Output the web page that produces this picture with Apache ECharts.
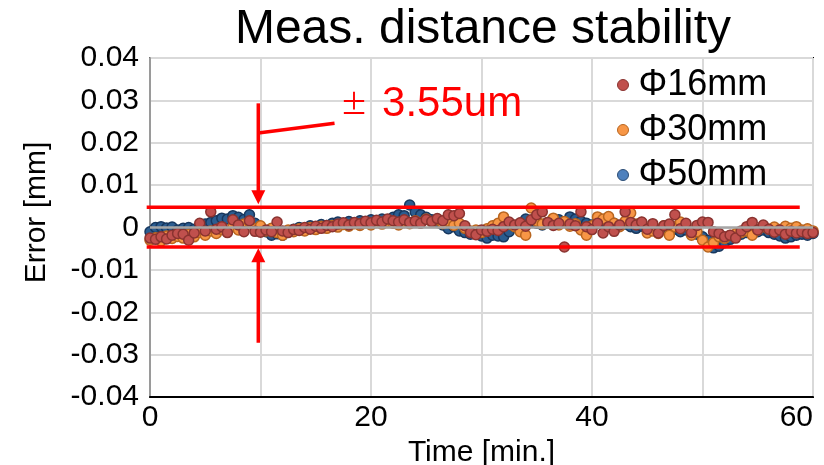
<!DOCTYPE html>
<html>
<head>
<meta charset="utf-8">
<script src="https://cdn.jsdelivr.net/npm/echarts@6/dist/echarts.min.js"></script>
<style>html,body{margin:0;padding:0;background:#fff}#c{width:824px;height:465px}</style>
</head>
<body>
<div id="c"></div>
<script>
const minutes = [0,0.5,1,1.5,2,2.5,3,3.5,4,4.5,5,5.5,6,6.5,7,7.5,8,8.5,9,9.5,10,10.5,11,11.5,12,12.5,13,13.5,14,14.5,15,15.5,16,16.5,17,17.5,18,18.5,19,19.5,20,20.5,21,21.5,22,22.5,23,23.5,24,24.5,25,25.5,26,26.5,27,27.5,28,28.5,29,29.5,30,30.5,31,31.5,32,32.5,33,33.5,34,34.5,35,35.5,36,36.5,37,37.5,38,38.5,39,39.5,40,40.5,41,41.5,42,42.5,43,43.5,44,44.5,45,45.5,46,46.5,47,47.5,48,48.5,49,49.5,50,50.5,51,51.5,52,52.5,53,53.5,54,54.5,55,55.5,56,56.5,57,57.5,58,58.5,59,59.5,60];

const phi16 = [-0.0025,-0.0028,-0.0022,-0.0027,-0.0018,-0.0014,-0.0016,-0.0030,-0.0013,0.0010,-0.0008,0.0037,-0.0004,0.0002,-0.0012,0.0018,0.0006,-0.0010,0.0016,-0.0009,
-0.0011,-0.0006,-0.0010,0.0013,-0.0008,-0.0012,-0.0005,-0.0007,0.0000,-0.0004,0.0003,-0.0002,0.0005,0.0002,0.0008,0.0011,0.0006,0.0012,0.0009,0.0015,
0.0011,0.0017,0.0013,0.0020,0.0016,0.0013,0.0018,0.0012,0.0015,0.0010,0.0019,0.0014,0.0021,0.0016,0.0030,0.0028,0.0033,0.0004,-0.0012,-0.0017,
-0.0006,-0.0009,-0.0004,-0.0007,0.0002,0.0013,0.0006,0.0011,0.0003,0.0018,0.0030,0.0037,0.0012,0.0005,0.0010,-0.0046,0.0008,0.0004,0.0037,0.0002,
-0.0005,0.0010,-0.0013,0.0002,-0.0009,0.0006,0.0037,0.0012,0.0006,0.0013,-0.0004,0.0009,-0.0013,0.0004,0.0008,0.0030,-0.0003,0.0010,-0.0012,0.0005,
0.0013,0.0012,-0.0010,-0.0014,-0.0022,-0.0018,-0.0025,-0.0008,0.0002,0.0012,-0.0006,0.0006,-0.0004,-0.0011,-0.0006,-0.0016,-0.0009,-0.0013,-0.0010,-0.0014,
-0.0012];

const phi30 = [-0.0030,-0.0024,-0.0032,-0.0020,-0.0026,-0.0021,-0.0025,-0.0016,-0.0022,-0.0012,-0.0018,-0.0008,-0.0014,-0.0005,-0.0010,0.0002,-0.0006,0.0008,0.0013,-0.0003,
0.0004,-0.0008,-0.0002,-0.0012,-0.0018,-0.0006,-0.0010,-0.0003,-0.0008,0.0000,-0.0005,0.0003,-0.0002,0.0005,0.0001,0.0007,0.0003,0.0009,0.0005,0.0011,
0.0006,0.0012,0.0008,0.0014,0.0010,0.0006,0.0012,0.0009,0.0016,0.0011,0.0020,0.0013,0.0018,0.0009,0.0015,0.0005,0.0010,-0.0002,-0.0008,-0.0006,
-0.0012,-0.0003,0.0004,0.0010,0.0025,0.0008,0.0002,-0.0010,-0.0018,0.0046,0.0015,0.0008,0.0012,0.0022,0.0006,0.0014,0.0003,0.0009,-0.0006,-0.0018,
0.0004,0.0025,0.0020,0.0026,0.0010,0.0002,0.0015,0.0034,0.0008,0.0012,-0.0013,-0.0008,-0.0014,0.0004,-0.0018,0.0002,0.0013,0.0005,-0.0018,-0.0010,
-0.0030,-0.0046,-0.0036,-0.0022,-0.0026,-0.0019,-0.0015,-0.0012,-0.0008,-0.0018,-0.0006,0.0002,-0.0004,0.0001,-0.0005,0.0003,-0.0002,0.0002,-0.0006,-0.0003,
-0.0008];

const phi50 = [-0.0010,0.0000,0.0002,-0.0001,0.0001,-0.0006,-0.0002,0.0000,-0.0004,0.0004,0.0008,0.0012,0.0016,0.0022,0.0020,0.0028,0.0024,0.0019,0.0030,0.0010,
-0.0002,-0.0010,-0.0018,-0.0015,-0.0018,-0.0008,-0.0004,0.0000,-0.0003,0.0004,0.0002,0.0007,0.0005,0.0010,0.0013,0.0008,0.0014,0.0010,0.0016,0.0012,
0.0018,0.0015,0.0020,0.0017,0.0024,0.0030,0.0028,0.0053,0.0036,0.0030,0.0024,0.0018,0.0012,0.0006,-0.0003,0.0002,-0.0008,-0.0012,-0.0016,-0.0014,
-0.0020,-0.0025,-0.0018,-0.0020,-0.0022,-0.0010,0.0002,0.0010,0.0020,0.0014,0.0010,0.0006,0.0012,0.0016,0.0018,0.0013,0.0025,0.0020,0.0015,0.0010,
0.0006,0.0012,0.0015,0.0018,0.0010,0.0004,0.0008,0.0002,-0.0002,0.0003,-0.0004,0.0001,-0.0006,-0.0002,-0.0008,-0.0004,-0.0010,-0.0006,-0.0012,-0.0016,
-0.0022,-0.0030,-0.0048,-0.0044,-0.0036,-0.0028,-0.0020,-0.0016,-0.0012,-0.0008,-0.0010,-0.0006,-0.0012,-0.0016,-0.0020,-0.0025,-0.0022,-0.0018,-0.0016,-0.0018,
-0.0014];

const seriesNames = ['Φ16mm','Φ30mm','Φ50mm'];
const yTicks = [-0.04,-0.03,-0.02,-0.01,0,0.01,0.02,0.03,0.04];
const boundUpper = 0.0048;
const boundLower = -0.0046;
const annotationText = '3.55um';

const FONT = 'Liberation Sans, Arial, sans-serif';
const chart = echarts.init(document.getElementById('c'), null, {renderer:'canvas'});

function pairs(vals){ return minutes.map((t,i)=>[t, vals[i]]); }

const styles = [
  {color:'#C0504D', borderColor:'#8A3330', z:5},
  {color:'#F79646', borderColor:'#B8651F', z:4},
  {color:'#2B5C8F', borderColor:'#17375E', z:3}
];

const dataSets = [phi16, phi30, phi50];

const option = {
  animation:false,
  backgroundColor:'#fff',
  textStyle:{fontFamily:FONT},
  title:{
    text:'Meas. distance stability',
    left:478, top:1, textAlign:'center',
    textStyle:{fontFamily:FONT, fontSize:48, fontWeight:'normal', color:'#000'}
  },
  legend:{
    orient:'vertical', left:612, top:62,
    itemWidth:11, itemHeight:11, itemGap:9,
    icon:'circle',
    textStyle:{fontFamily:FONT, fontSize:36, color:'#000', padding:[0,0,0,5]},
    data:[
      {name:seriesNames[0], itemStyle:{color:'#C0504D', borderColor:'#8A3330', borderWidth:1}},
      {name:seriesNames[1], itemStyle:{color:'#F79646', borderColor:'#B8651F', borderWidth:1}},
      {name:seriesNames[2], itemStyle:{color:'#4F81BD', borderColor:'#2C4D75', borderWidth:1}}
    ]
  },
  grid:{left:150, right:11, top:58, bottom:68, show:true, borderColor:'#000', borderWidth:2,
    containLabel:false, outerBoundsMode:'none'},
  xAxis:{
    type:'value', min:0, max:60, interval:10,
    name:'Time [min.]', nameLocation:'middle', nameGap:32,
    nameTextStyle:{fontFamily:FONT, fontSize:30, color:'#000'},
    axisLine:{onZero:false, lineStyle:{color:'#000', width:2}},
    axisTick:{show:false},
    axisLabel:{fontFamily:FONT, fontSize:30, color:'#000', margin:6,
      formatter:v=> (v%20===0 ? String(v) : ''), alignMaxLabel:'right'},
    splitLine:{show:true, lineStyle:{color:'#d9d9d9', width:2}}
  },
  yAxis:{
    type:'value', min:yTicks[0], max:yTicks[yTicks.length-1], interval:0.01,
    name:'Error [mm]', nameLocation:'middle', nameGap:98,
    nameTextStyle:{fontFamily:FONT, fontSize:30, color:'#000', padding:[0,0,0,30]},
    axisLine:{show:true, lineStyle:{color:'#9a9a9a', width:2}},
    axisTick:{show:false},
    axisLabel:{fontFamily:FONT, fontSize:30, color:'#000', margin:11,
      formatter:v=>{ const r = Math.round(v*100)/100; return r===0 ? '0' : String(r); }},
    splitLine:{show:true, lineStyle:{color:'#d9d9d9', width:2}}
  },
  series: seriesNames.map((n,i)=>({
    name:n, type:'scatter', symbol:'circle', symbolSize:10, z:styles[i].z,
    itemStyle:{color:styles[i].color, borderColor:styles[i].borderColor, borderWidth:1.5, opacity:1},
    emphasis:{disabled:true},
    data:pairs(dataSets[i])
  })).concat([{
    name:'zero', type:'line', z:8, silent:true, symbol:'none',
    lineStyle:{color:'#a6a6a6', width:2.5},
    data:[[0,0],[60,0]]
  }])
};
chart.setOption(option);

const P = (x,y)=>chart.convertToPixel({gridIndex:0},[x,y]);
const red = '#ff0000';
const u1 = P(-0.3, boundUpper), u2 = P(58.8, boundUpper);
const l1 = P(-0.3, boundLower), l2 = P(58.8, boundLower);
const upTop = P(9.8, 0.0293), upTip = P(9.8, 0.0055);
const dnBot = P(9.8, -0.0272), dnTip = P(9.8, -0.0049);
const ld1 = P(9.8, 0.0223), ld2 = P(16.7, 0.0246);
const head = 14, hw = 7;
const txtPos = P(21.0, 0.0290);
const pmPos = P(17.2, 0.0290);

chart.setOption({graphic:[
  {type:'line', z:20, shape:{x1:u1[0],y1:u1[1],x2:u2[0],y2:u2[1]}, style:{stroke:red, lineWidth:3.5}},
  {type:'line', z:20, shape:{x1:l1[0],y1:l1[1],x2:l2[0],y2:l2[1]}, style:{stroke:red, lineWidth:3.5}},
  {type:'line', z:20, shape:{x1:upTop[0],y1:upTop[1],x2:upTip[0],y2:upTip[1]-head+2}, style:{stroke:red, lineWidth:3.5}},
  {type:'polygon', z:20, shape:{points:[[upTip[0]-hw,upTip[1]-head],[upTip[0]+hw,upTip[1]-head],[upTip[0],upTip[1]]]}, style:{fill:red}},
  {type:'line', z:20, shape:{x1:dnBot[0],y1:dnBot[1],x2:dnTip[0],y2:dnTip[1]+head-2}, style:{stroke:red, lineWidth:3.5}},
  {type:'polygon', z:20, shape:{points:[[dnTip[0]-hw,dnTip[1]+head],[dnTip[0]+hw,dnTip[1]+head],[dnTip[0],dnTip[1]]]}, style:{fill:red}},
  {type:'line', z:20, shape:{x1:ld1[0],y1:ld1[1],x2:ld2[0],y2:ld2[1]}, style:{stroke:red, lineWidth:3.5}},
  {type:'text', z:20, x:pmPos[0], y:pmPos[1], style:{text:'±', fill:red, font:'normal 28px "Noto Sans CJK JP", sans-serif', textAlign:'left', textVerticalAlign:'middle'}},
  {type:'text', z:20, x:txtPos[0], y:txtPos[1], style:{text:annotationText, fill:red, font:'normal 42px "Liberation Sans", Arial, sans-serif', textAlign:'left', textVerticalAlign:'middle'}}
]});
</script>
</body>
</html>
